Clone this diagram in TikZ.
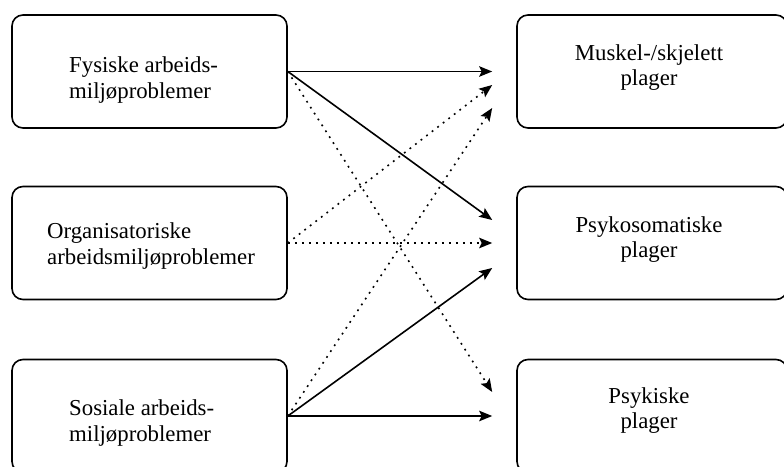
\documentclass[tikz,border=0pt]{standalone}
\usepackage{fontspec}
\setmainfont{Liberation Serif}
\usetikzlibrary{arrows.meta}
\begin{document}
\begin{tikzpicture}[x=1pt,y=-1pt,
  box/.style={draw, line width=1.6pt, rounded corners=11pt, inner sep=0pt},
  lbox/.style={box, minimum width=275pt, minimum height=113pt},
  rbox/.style={box, minimum width=270pt, minimum height=113pt},
  lbl/.style={font=\fontsize{22.8}{26.5}\selectfont, inner sep=0pt},
  rlbl/.style={font=\fontsize{22.8}{25}\selectfont, inner sep=0pt},
  link/.style={line width=1.6pt, -{Stealth[length=13pt,width=10.5pt,inset=2.5pt]}},
  dots/.style={link, dash pattern=on 1.8pt off 5.2pt}]
\clip (0,0) rectangle (784,466);
\fill[white] (0,0) rectangle (784,466);

% causes (left column)
\node[lbox] (b1) at (149.5,71.5) {};
\node[lbox] (b2) at (149.5,243) {};
\node[lbox] (b3) at (149.5,416) {};
% effects (right column)
\node[rbox] (r1) at (652,71.5) {};
\node[rbox] (r2) at (652,243) {};
\node[rbox] (r3) at (652,416) {};

% labels (anchored at the baseline of their last line)
\node[lbl, anchor=base west, align=left] (t1) at (69,98.5) {Fysiske arbeids-\\miljøproblemer};
\node[lbl, anchor=base west, align=left] (t2) at (47,264.5) {Organisatoriske\\arbeidsmiljøproblemer};
\node[lbl, anchor=base west, align=left] (t3) at (69,441.5) {Sosiale arbeids-\\miljøproblemer};
\node[rlbl, anchor=base, align=center] (u1) at (649,85) {Muskel-/skjelett\\plager};
\node[rlbl, anchor=base, align=center] (u2) at (649,257) {Psykosomatiske\\plager};
\node[rlbl, anchor=base, align=center] (u3) at (649,428) {Psykiske\\plager};

% connectors
\draw[link] (b1.east) -- ([xshift=-24pt]r1.west);
\draw[link] (b1.east) -- ([xshift=-24pt,yshift=23pt]r2.west);
\draw[dots] (b1.east) -- ([xshift=-24pt,yshift=24pt]r3.west);
\draw[dots] (b2.east) -- ([xshift=-24pt,yshift=-13.5pt]r1.west);
\draw[dots] (b2.east) -- ([xshift=-24pt]r2.west);
\draw[dots] (b3.east) -- ([xshift=-24pt,yshift=-36.5pt]r1.west);
\draw[link] (b3.east) -- ([xshift=-24pt,yshift=-25pt]r2.west);
\draw[link] (b3.east) -- ([xshift=-24pt]r3.west);
\end{tikzpicture}
\end{document}
